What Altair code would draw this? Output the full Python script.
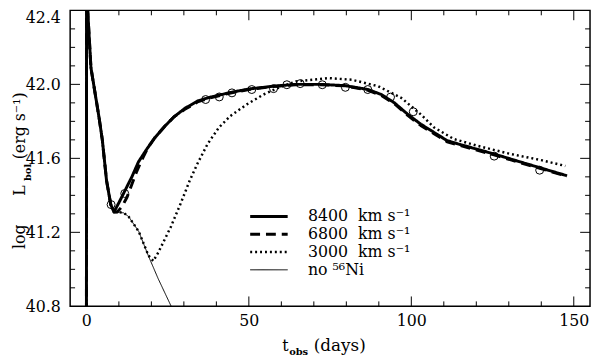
import altair as alt
import pandas as pd

FONT = "DejaVu Serif"

series_names = ["8400\u00a0\u00a0km s\u207b\u00b9", "6800\u00a0\u00a0km s\u207b\u00b9",
                "3000\u00a0\u00a0km s\u207b\u00b9", "no \u2075\u2076Ni"]

# shared early (shock breakout / cooling) phase
early_t = [0.0, 0.05, 0.4, 1.4, 3.9, 4.9, 6.2, 7.5, 8.5]
early_L = [40.0, 42.7, 42.4, 42.09, 41.82, 41.70, 41.48, 41.35, 41.31]

t_8400 = [10, 12, 14, 16, 18.2, 21, 24.2, 27, 30.3, 34.2, 38, 44, 50, 57.5, 64.5, 72,
          79.7, 86.7, 90.8, 94.8, 98.9, 102.9, 107, 111, 115, 125.2, 135.2, 147.9]
L_8400 = [41.36, 41.43, 41.50, 41.58, 41.64, 41.71, 41.775, 41.825, 41.87, 41.91, 41.93,
          41.955, 41.975, 41.99, 42.0, 42.0, 41.993, 41.972, 41.945, 41.90, 41.838, 41.785,
          41.74, 41.696, 41.675, 41.625, 41.572, 41.506]

t_6800 = [9.5, 11, 12.5, 14, 15.5, 17, 19, 21, 24.2, 27, 30.3, 34.2, 38, 44, 50, 57.5,
          64.5, 72, 79.7, 86.7, 90.8, 94.8, 98.9, 102.9, 107, 111, 115, 125.2, 135.2, 147.9]
L_6800 = [41.31, 41.34, 41.39, 41.46, 41.53, 41.59, 41.66, 41.71, 41.775, 41.825, 41.865,
          41.905, 41.927, 41.952, 41.972, 41.988, 41.998, 41.998, 41.992, 41.968, 41.94,
          41.895, 41.832, 41.778, 41.733, 41.69, 41.67, 41.62, 41.568, 41.503]

t_3000 = [9.5, 11.5, 13, 16.1, 19.1, 20.6, 22.1, 26, 29.1, 31.8, 34.2, 37.3, 40.8, 44.3,
          49.4, 54.5, 59.5, 64.5, 74.6, 81.7, 89.8, 96.9, 102.9, 107, 113, 120.1, 130.2,
          140.3, 147.4]
L_3000 = [41.31, 41.305, 41.285, 41.205, 41.075, 41.045, 41.09, 41.23, 41.36, 41.48,
          41.572, 41.678, 41.767, 41.829, 41.892, 41.945, 41.984, 42.016, 42.034, 42.025,
          41.99, 41.927, 41.838, 41.767, 41.705, 41.669, 41.625, 41.589, 41.559]

t_noni = [9.5, 11.5, 13, 16.1, 19.1, 22.1, 26.1, 28]
L_noni = [41.31, 41.305, 41.285, 41.205, 41.072, 40.949, 40.8, 40.72]

obs_t = [7.6, 11.8, 36.7, 40.9, 44.8, 50.9, 57.6, 61.7, 65.8, 72.6, 79.7, 86.6, 93.6,
         100.6, 125.5, 139.5]
obs_L = [41.35, 41.41, 41.918, 41.932, 41.954, 41.972, 41.977, 41.998, 42.004, 41.998,
         41.984, 41.972, 41.931, 41.852, 41.612, 41.536]

x_major = [0, 50, 100, 150]
x_minor = [10, 20, 30, 40, 60, 70, 80, 90, 110, 120, 130, 140]
y_major = [40.8, 41.2, 41.6, 42.0, 42.4]
y_major_inner = [41.2, 41.6, 42.0]
y_minor = [40.9, 41.0, 41.1, 41.3, 41.4, 41.5, 41.7, 41.8, 41.9, 42.1, 42.2, 42.3]

rows = []
for name, ts, Ls in [(series_names[0], t_8400, L_8400), (series_names[1], t_6800, L_6800),
                     (series_names[2], t_3000, L_3000), (series_names[3], t_noni, L_noni)]:
    for i, (t, L) in enumerate(zip(early_t + ts, early_L + Ls)):
        rows.append({"series": name, "t": t, "L": L, "i": i})
lines_df = pd.DataFrame(rows)
obs_df = pd.DataFrame({"t": obs_t, "L": obs_L})

W, H = 527, 300
xs = alt.Scale(domain=[-5, 155], nice=False, zero=False)
ys = alt.Scale(domain=[40.8, 42.4], nice=False, zero=False)

xaxis = alt.Axis(values=x_major, ticks=False, domain=False, grid=False,
                 labelFont=FONT, labelFontSize=16, labelPadding=6,
                 labelColor="black", labelFlush=False, title=None)
yaxis = alt.Axis(values=y_major, format=".1f", ticks=False, domain=False,
                 grid=False, labelFont=FONT, labelFontSize=16,
                 labelPadding=10, labelColor="black", title=None, labelFlush=False,
                 labelOffset={"condition": {"test": "datum.value > 42.35", "value": 7}, "value": 0})

legend = alt.Legend(orient="none", legendX=181, legendY=201, title=None, symbolType="stroke",
                    symbolSize=1444, clipHeight=16, labelFont=FONT, labelFontSize=16,
                    labelColor="black", labelOffset=19, rowPadding=2, padding=0,
                    symbolStrokeColor="black", labelLimit=300)

lines = alt.Chart(lines_df).mark_line(clip=True, color="black", strokeCap="butt",
                                      strokeJoin="round").encode(
    x=alt.X("t:Q", scale=xs, axis=xaxis),
    y=alt.Y("L:Q", scale=ys, axis=yaxis),
    strokeDash=alt.StrokeDash("series:N", scale=alt.Scale(domain=series_names,
                              range=[[1, 0], [10, 6], [2, 3], [1, 0]]), legend=legend),
    strokeWidth=alt.StrokeWidth("series:N", scale=alt.Scale(type="ordinal", domain=series_names,
                                range=[3, 3, 2.5, 1]), legend=legend),
    order="i:Q",
)

points = alt.Chart(obs_df).mark_point(shape="circle", filled=False, color="black", size=65,
                                      strokeWidth=1, opacity=1).encode(
    x=alt.X("t:Q", scale=xs, axis=xaxis), y=alt.Y("L:Q", scale=ys, axis=yaxis))


def xticks(vals, length):
    base = alt.Chart(pd.DataFrame({"t": vals})).mark_rule(color="black", strokeWidth=1)
    b = base.encode(x=alt.X("t:Q", scale=xs, axis=xaxis), y=alt.value(H), y2=alt.value(H - length))
    t = base.encode(x=alt.X("t:Q", scale=xs, axis=xaxis), y=alt.value(0), y2=alt.value(length))
    return [b, t]


def yticks(vals, length):
    base = alt.Chart(pd.DataFrame({"L": vals})).mark_rule(color="black", strokeWidth=1)
    l = base.encode(y=alt.Y("L:Q", scale=ys, axis=yaxis), x=alt.value(0), x2=alt.value(length))
    r = base.encode(y=alt.Y("L:Q", scale=ys, axis=yaxis), x=alt.value(W), x2=alt.value(W - length))
    return [l, r]


def label(txt, x, y, size=16, bold=False, angle=0):
    return alt.Chart(pd.DataFrame({"s": [txt]})).mark_text(
        font=FONT, fontSize=size, fontWeight="bold" if bold else "normal", color="black",
        align="left", baseline="alphabetic", angle=angle).encode(
        text="s:N", x=alt.value(x), y=alt.value(y))


titles = [
    label("t", 215, 345),
    label("obs", 222, 349.5, size=10, bold=True),
    label("(days)", 247, 345, size=17),
    label("log", -46, 242, angle=270),
    label("L", -46, 188, angle=270),
    label("bol", -40, 173, size=10, bold=True, angle=270),
    label("(erg s\u207b\u00b9)", -46, 151, angle=270),
]

layers = [lines, points] + xticks(x_major, 10) + xticks(x_minor, 5) + \
    yticks(y_major_inner, 10) + yticks(y_minor, 5) + titles

chart = alt.layer(*layers).properties(
    width=W, height=H,
    autosize=alt.AutoSizeParams(type="none"),
    padding={"left": 63, "top": 0, "right": 2, "bottom": 52},
    background="white",
).configure_view(stroke="black", strokeWidth=1.5)

chart.save("out.html", embed_options={"renderer": "svg", "actions": False})
